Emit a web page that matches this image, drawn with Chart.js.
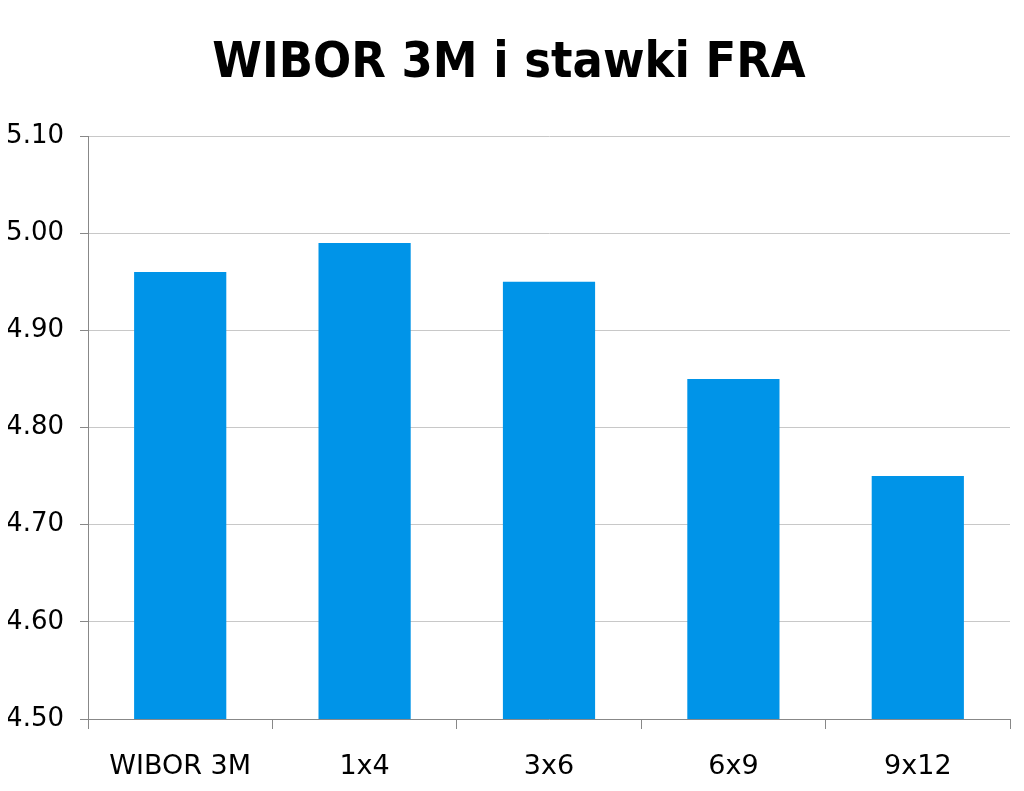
<!DOCTYPE html>
<html>
<head>
<meta charset="utf-8">
<script src="https://cdn.jsdelivr.net/npm/chart.js@4/dist/chart.umd.min.js"></script>
<style>
  html, body { margin: 0; padding: 0; background: #fff; }
  #wrap { width: 1024px; height: 791px; }
</style>
</head>
<body>
<div id="wrap"><canvas id="fraChart"></canvas></div>
<script>
const categories = ['WIBOR 3M', '1x4', '3x6', '6x9', '9x12'];
const rates = [4.96, 4.99, 4.95, 4.85, 4.75];
const yTicks = [4.5, 4.6, 4.7, 4.8, 4.9, 5.0, 5.1];

(function () {
    const data = {
        labels: categories,
        datasets: [{
            label: 'WIBOR 3M i stawki FRA',
            data: rates,
            backgroundColor: '#0094e8',
            borderWidth: 0,
            categoryPercentage: 1.0,
            barPercentage: 0.5,
        }]
    };

    const config = {
        type: 'bar',
        data: data,
        options: {
            responsive: true,
            maintainAspectRatio: false,
            animation: false,
            layout: {
                padding: { left: 8, right: 14, top: 34, bottom: 0 }
            },
            plugins: {
                legend: { display: false },
                tooltip: { enabled: false },
                title: {
                    display: true,
                    text: 'WIBOR 3M i stawki FRA',
                    color: '#000',
                    padding: { top: 0, bottom: 42 },
                    font: {
                        family: "'DejaVu Sans Condensed', 'DejaVu Sans', sans-serif",
                        weight: 'bold',
                        size: 50,
                    },
                },
            },
            scales: {
                x: {
                    afterFit: function (axis) { axis.height = 72; },
                    grid: {
                        offset: true,
                        drawOnChartArea: false,
                        drawTicks: true,
                        tickLength: 10,
                        color: '#888',
                    },
                    border: { color: '#888' },
                    ticks: {
                        color: '#000',
                        padding: 22,
                        font: { family: "'DejaVu Sans', sans-serif", size: 27 },
                    },
                },
                y: {
                    min: 4.5,
                    max: 5.1,
                    afterFit: function (axis) { axis.width = 80; },
                    afterBuildTicks: function (axis) {
                        axis.ticks = yTicks.map(v => ({ value: v }));
                    },
                    grid: {
                        color: '#c8c8c8',
                        tickColor: '#888',
                        tickLength: 8,
                    },
                    border: { color: '#888' },
                    ticks: {
                        color: '#000',
                        padding: 16,
                        font: { family: "'DejaVu Sans', sans-serif", size: 26 },
                        callback: function (value) { return Number(value).toFixed(2); },
                    },
                },
            },
        }
    };

    new Chart(document.getElementById('fraChart'), config);
})();
</script>
</body>
</html>
